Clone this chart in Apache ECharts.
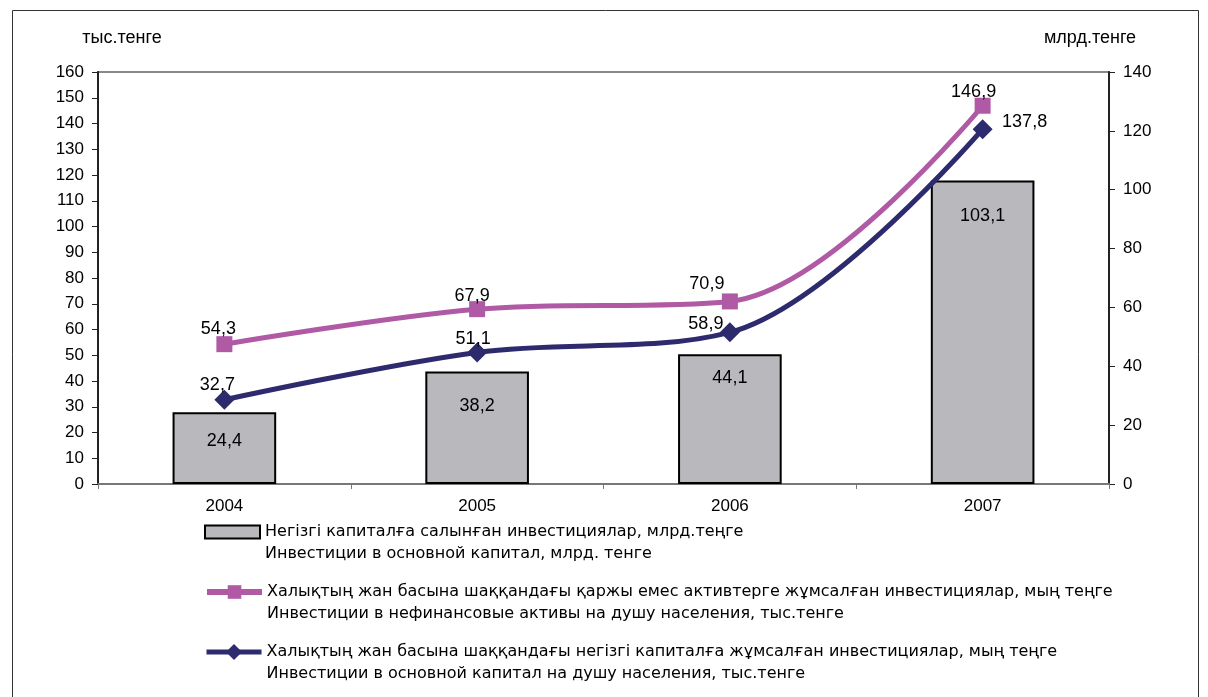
<!DOCTYPE html>
<html>
<head>
<meta charset="utf-8">
<script src="https://cdn.jsdelivr.net/npm/echarts@6/dist/echarts.min.js"></script>
<style>
  html, body { margin: 0; padding: 0; background: #fff; }
  #main { width: 1208px; height: 697px; }
</style>
</head>
<body>
<div id="main"></div>
<script>
// data
var years = ["2004", "2005", "2006", "2007"];
var capitalInv = [24.4, 38.2, 44.1, 103.1];        // млрд. тенге (right axis)
var nonFinPerCapita = [54.3, 67.9, 70.9, 146.9];   // тыс. тенге (left axis)
var capitalPerCapita = [32.7, 51.1, 58.9, 137.8];  // тыс. тенге (left axis)

var seriesNames = [
  "Негізгі капиталға салынған инвестициялар, млрд.теңге\nИнвестиции в основной капитал, млрд. тенге",
  "Халықтың жан басына шаққандағы қаржы емес активтерге жұмсалған инвестициялар, мың теңге\nИнвестиции в нефинансовые активы на душу населения, тыс.тенге",
  "Халықтың жан басына шаққандағы негізгі капиталға жұмсалған инвестициялар, мың теңге\nИнвестиции в основной капитал на душу населения, тыс.тенге"
];

// label offsets (px)
var barLabelOffset = [[0, 0], [0, 5], [0, -5], [0, 6]];
var pinkLabelOffset = [[-6, -15], [-5, -13], [-23, -17], [-9, -14]];
var navyLabelOffset = [[-7, -15], [-4, -13], [-24, -8], [42, -7]];

function comma(v) {
  return String(v).replace(".", ",");
}

function withOffsets(values, offsets) {
  return values.map(function (v, i) {
    return { value: v, label: { offset: offsets[i] } };
  });
}

var myChart = echarts.init(document.getElementById("main"));
var font = "Liberation Sans, Arial, sans-serif";
var legendFont = "DejaVu Sans, sans-serif";

// one legend per series so each icon sits next to the first text line
function legendFor(name, top, itemHeight, extra) {
  var lg = {
    orient: "vertical",
    left: 204,
    top: top,
    padding: 0,
    itemGap: 0,
    itemWidth: 55,
    itemHeight: itemHeight,
    formatter: function (n) { return "\n" + n; },
    textStyle: { fontFamily: legendFont, fontSize: 16, lineHeight: 22, color: "#000" },
    data: [name]
  };
  return Object.assign(lg, extra || {});
}

var option = {
  animation: false,
  textStyle: { fontFamily: font, color: "#000" },
  graphic: [
    {
      type: "rect",
      shape: { x: 12.5, y: 10.5, width: 1186, height: 700 },
      style: { fill: "none", stroke: "#333", lineWidth: 1 },
      silent: true
    }
  ],
  grid: {
    left: 98,
    right: 99,
    top: 72,
    bottom: 213,
    show: true,
    borderColor: "#888",
    borderWidth: 2
  },
  legend: [
    legendFor(seriesNames[0], 499, 13, { data: [{ name: seriesNames[0], icon: "rect" }] }),
    legendFor(seriesNames[1], 559, 17, { lineStyle: { width: 6 } }),
    legendFor(seriesNames[2], 619, 20, { lineStyle: { width: 5 } })
  ],
  xAxis: {
    type: "category",
    data: years,
    axisLine: { lineStyle: { color: "#777", width: 2 } },
    axisTick: { show: true, length: 5, lineStyle: { color: "#777" } },
    axisLabel: { fontSize: 17, color: "#000", margin: 14 }
  },
  yAxis: [
    {
      type: "value",
      min: 0,
      max: 160,
      interval: 10,
      name: "тыс.тенге",
      nameLocation: "end",
      nameGap: 25,
      nameTextStyle: { fontSize: 18, color: "#000", align: "center", padding: [0, 0, 0, 48] },
      axisLine: { show: true, lineStyle: { color: "#222", width: 2 } },
      axisTick: { show: true, length: 6, lineStyle: { color: "#222" } },
      axisLabel: { fontSize: 17, color: "#000", margin: 14 },
      splitLine: { show: false }
    },
    {
      type: "value",
      min: 0,
      max: 140,
      interval: 20,
      name: "млрд.тенге",
      nameLocation: "end",
      nameGap: 25,
      nameTextStyle: { fontSize: 18, color: "#000", align: "center", padding: [0, 38, 0, 0] },
      axisLine: { show: true, lineStyle: { color: "#222", width: 2 } },
      axisTick: { show: true, length: 6, lineStyle: { color: "#222" } },
      axisLabel: { fontSize: 17, color: "#000", margin: 14 },
      splitLine: { show: false }
    }
  ],
  series: [
    {
      name: seriesNames[0],
      type: "bar",
      yAxisIndex: 1,
      barWidth: "41%",
      data: withOffsets(capitalInv, barLabelOffset),
      itemStyle: { color: "#b9b9bd", borderColor: "#000", borderWidth: 2 },
      label: {
        show: true,
        position: "insideTop",
        distance: 20,
        fontSize: 18,
        color: "#000",
        formatter: function (p) { return comma(p.value); }
      },
      z: 1
    },
    {
      name: seriesNames[1],
      type: "line",
      yAxisIndex: 0,
      smooth: 0.35,
      symbol: "rect",
      symbolSize: 16,
      data: withOffsets(nonFinPerCapita, pinkLabelOffset),
      lineStyle: { color: "#b05aa6", width: 5 },
      itemStyle: { color: "#b05aa6" },
      label: {
        show: true,
        position: "inside",
        fontSize: 18,
        color: "#000",
        formatter: function (p) { return comma(p.value); }
      },
      z: 3
    },
    {
      name: seriesNames[2],
      type: "line",
      yAxisIndex: 0,
      smooth: 0.35,
      symbol: "diamond",
      symbolSize: 20,
      data: withOffsets(capitalPerCapita, navyLabelOffset),
      lineStyle: { color: "#2e2a6e", width: 5 },
      itemStyle: { color: "#2e2a6e" },
      label: {
        show: true,
        position: "inside",
        fontSize: 18,
        color: "#000",
        formatter: function (p) { return comma(p.value); }
      },
      z: 4
    }
  ]
};

myChart.setOption(option);
</script>
</body>
</html>
